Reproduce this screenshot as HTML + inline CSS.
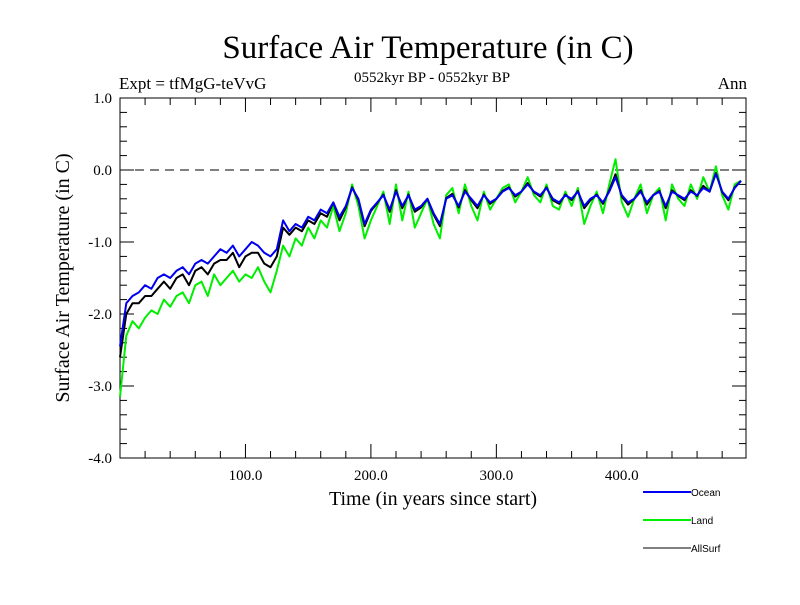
<!DOCTYPE html>
<html><head><meta charset="utf-8"><style>
body{margin:0;background:#fff}
svg text{font-family:"Liberation Serif",serif}
svg text.lg{font-family:"Liberation Sans",sans-serif}
</style></head><body>
<svg id="c" width="800" height="600" xmlns="http://www.w3.org/2000/svg">
<rect width="800" height="600" fill="#fff"/>
<text x="428" y="58" font-size="33" text-anchor="middle">Surface Air Temperature (in C)</text>
<text x="119" y="89" font-size="17">Expt = tfMgG-teVvG</text>
<text x="432" y="82" font-size="15" text-anchor="middle">0552kyr BP - 0552kyr BP</text>
<text x="747" y="89" font-size="17" text-anchor="end">Ann</text>
<text x="433" y="505" font-size="20" text-anchor="middle">Time (in years since start)</text>
<text transform="translate(69,278) rotate(-90)" font-size="20" text-anchor="middle">Surface Air Temperature (in C)</text>
<g id="axes"></g>
<g id="series"></g>
<g id="legend"></g>
</svg>
<script>
const years=[];for(let i=0;i<100;i++)years.push(i*5);
const ocean=[-2.45,-1.85,-1.75,-1.7,-1.6,-1.65,-1.5,-1.45,-1.5,-1.4,
 -1.35,-1.45,-1.3,-1.25,-1.3,-1.2,-1.1,-1.15,-1.05,-1.2,
 -1.1,-1.0,-1.05,-1.15,-1.2,-1.1,-0.7,-0.85,-0.75,-0.8,
 -0.65,-0.7,-0.55,-0.6,-0.45,-0.65,-0.5,-0.25,-0.4,-0.75,
 -0.55,-0.45,-0.35,-0.55,-0.3,-0.5,-0.35,-0.55,-0.5,-0.4,
 -0.6,-0.75,-0.4,-0.35,-0.5,-0.3,-0.4,-0.5,-0.35,-0.45,
 -0.4,-0.3,-0.25,-0.35,-0.3,-0.2,-0.3,-0.35,-0.25,-0.4,
 -0.45,-0.35,-0.4,-0.3,-0.5,-0.4,-0.35,-0.45,-0.3,-0.1,
 -0.35,-0.45,-0.4,-0.3,-0.45,-0.35,-0.3,-0.5,-0.3,-0.35,
 -0.4,-0.3,-0.35,-0.25,-0.3,-0.05,-0.3,-0.4,-0.25,-0.15];
const land=[-3.15,-2.3,-2.1,-2.2,-2.05,-1.95,-2.0,-1.8,-1.9,-1.75,
 -1.7,-1.85,-1.6,-1.55,-1.75,-1.45,-1.6,-1.5,-1.4,-1.55,
 -1.45,-1.5,-1.35,-1.55,-1.7,-1.4,-1.05,-1.2,-0.95,-1.05,
 -0.8,-0.95,-0.7,-0.8,-0.5,-0.85,-0.6,-0.2,-0.5,-0.95,
 -0.7,-0.5,-0.3,-0.75,-0.2,-0.7,-0.3,-0.8,-0.6,-0.4,
 -0.75,-0.95,-0.35,-0.25,-0.6,-0.2,-0.5,-0.7,-0.3,-0.55,
 -0.4,-0.25,-0.2,-0.45,-0.3,-0.1,-0.35,-0.45,-0.2,-0.5,
 -0.55,-0.3,-0.5,-0.25,-0.75,-0.5,-0.3,-0.6,-0.2,0.15,
 -0.45,-0.65,-0.4,-0.2,-0.6,-0.35,-0.25,-0.7,-0.2,-0.4,
 -0.5,-0.2,-0.4,-0.1,-0.3,0.05,-0.35,-0.55,-0.2,-0.15];
const allsurf=[-2.6,-2.0,-1.85,-1.85,-1.75,-1.75,-1.65,-1.55,-1.65,-1.5,
 -1.45,-1.6,-1.4,-1.35,-1.45,-1.3,-1.25,-1.25,-1.15,-1.35,
 -1.2,-1.15,-1.15,-1.3,-1.35,-1.2,-0.8,-0.9,-0.8,-0.85,
 -0.7,-0.75,-0.6,-0.65,-0.45,-0.7,-0.52,-0.24,-0.42,-0.78,
 -0.57,-0.46,-0.34,-0.58,-0.28,-0.53,-0.34,-0.58,-0.52,-0.4,
 -0.62,-0.78,-0.39,-0.33,-0.52,-0.28,-0.42,-0.53,-0.34,-0.47,
 -0.4,-0.29,-0.24,-0.37,-0.3,-0.18,-0.31,-0.37,-0.24,-0.42,
 -0.47,-0.34,-0.42,-0.29,-0.53,-0.42,-0.34,-0.47,-0.28,-0.06,
 -0.37,-0.48,-0.4,-0.28,-0.48,-0.35,-0.29,-0.53,-0.28,-0.36,
 -0.42,-0.28,-0.36,-0.22,-0.3,-0.04,-0.31,-0.42,-0.24,-0.15];
const yTicks=[1.0,0.0,-1.0,-2.0,-3.0,-4.0];
const yTickLabels=["1.0","0.0","-1.0","-2.0","-3.0","-4.0"];
const xTicks=[100,200,300,400];
const xTickLabels=["100.0","200.0","300.0","400.0"];
const L=120,R=746,T=98,B=458,X0=0,X1=499,Y0=-4,Y1=1;
const sx=v=>L+(v-X0)/(X1-X0)*(R-L);
const sy=v=>B-(v-Y0)/(Y1-Y0)*(B-T);
const NS="http://www.w3.org/2000/svg";
function mk(tag,attrs,parent){const e=document.createElementNS(NS,tag);for(const k in attrs)e.setAttribute(k,attrs[k]);parent.appendChild(e);return e;}
const ax=document.getElementById('axes');
const frame=mk('rect',{x:L,y:T,width:R-L,height:B-T,fill:'none',stroke:'#000','stroke-width':1},ax);


const zl=mk('line',{x1:L,x2:R,y1:sy(0),y2:sy(0),stroke:'#000','stroke-dasharray':'9,6'},ax);


for(let v=-4;v<=1.001;v+=0.2){const y=sy(v);const major=Math.abs(v-Math.round(v))<1e-6;const len=major?14:7;
 mk('line',{x1:L,x2:L+len,y1:y,y2:y,stroke:'#000'},ax);mk('line',{x1:R,x2:R-len,y1:y,y2:y,stroke:'#000'},ax);}
for(let v=20;v<500;v+=20){const x=sx(v);const major=v%100===0;const len=major?14:7;
 mk('line',{x1:x,x2:x,y1:B,y2:B-len,stroke:'#000'},ax);mk('line',{x1:x,x2:x,y1:T,y2:T+len,stroke:'#000'},ax);}
yTicks.forEach((v,i)=>{const t=mk('text',{x:L-8,y:sy(v)+5,'font-size':15,'text-anchor':'end'},ax);t.textContent=yTickLabels[i];
 
 });
xTicks.forEach((v,i)=>{const t=mk('text',{x:sx(v),y:B+22,'font-size':15,'text-anchor':'middle'},ax);t.textContent=xTickLabels[i];
 
 });
const sg=document.getElementById('series');
function line(arr,color,w,name){const d=arr.map((v,i)=>(i?'L':'M')+sx(years[i]).toFixed(1)+','+sy(v).toFixed(1)).join('');
 const p=mk('path',{d:d,fill:'none',stroke:color,'stroke-width':w,'stroke-linejoin':'round'},sg);
 
 }
line(land,'#00ee00',2,'land-line');
line(allsurf,'#000',2,'allsurf-line');
line(ocean,'#0000ee',2,'ocean-line');
const lg=document.getElementById('legend');
[['Ocean','#0000ee',492],['Land','#00ee00',520],['AllSurf','#000',548]].forEach(([n,c,y])=>{
 const g=mk('g',{},lg);
 
 
 mk('line',{x1:643,x2:691,y1:y,y2:y,stroke:c,'stroke-width':c==='#000'?1:2},g);
 const t=mk('text',{x:691,y:y+4,'font-size':10,'class':'lg'},g);t.textContent=n;});
</script>
</body></html>
